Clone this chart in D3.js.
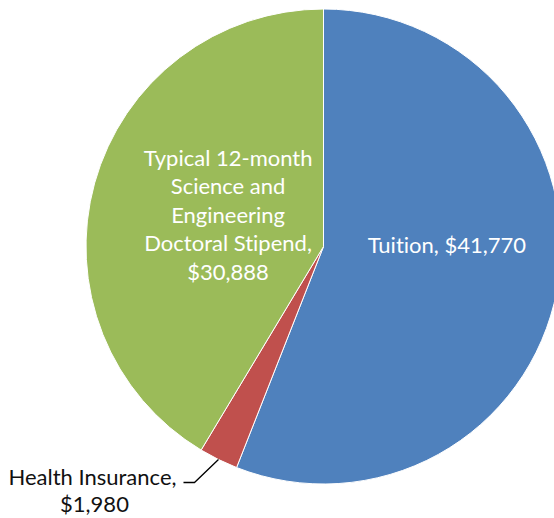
<!DOCTYPE html>
<html><head><meta charset="utf-8">
<script src="https://cdn.jsdelivr.net/npm/d3@7"></script>
<style>body{margin:0;background:#fff;}svg{display:block;}text{font-variant-ligatures:none;font-feature-settings:"liga" 0;}</style>
</head><body>
<script>
const categories = ["Tuition", "Health Insurance", "Typical 12-month Science and Engineering Doctoral Stipend"];
const values = [41770, 1980, 30888];
const colors = ["#4F81BD", "#C0504D", "#9BBB59"];
const labelLines = [
  ["Tuition, $41,770"],
  ["Health Insurance,", "$1,980"],
  ["Typical 12-month", "Science and", "Engineering", "Doctoral Stipend,", "$30,888"]
];

const W = 554, H = 518, cx = 323.5, cy = 246.5, R = 237.5;
const svg = d3.select("body").append("svg").attr("width", W).attr("height", H);
const g = svg.append("g").attr("transform", `translate(${cx},${cy})`);
const pie = d3.pie().sort(null).value(d => d)(values);
const arc = d3.arc().innerRadius(0).outerRadius(R);
g.selectAll("path.slice").data(pie).enter().append("path")
  .attr("class", "slice").attr("d", arc)
  .attr("fill", (d, i) => colors[i]).attr("stroke", "#fff").attr("stroke-width", 1);

const font = "Lato, 'Open Sans', sans-serif";
const fs = 22, lh = 28.5;
// Tuition label (inside)
const tPos = d3.arc().innerRadius(R * 0.52).outerRadius(R * 0.52).centroid(pie[0]);
g.append("text").attr("x", tPos[0] + 2).attr("y", tPos[1] - 17)
  .attr("text-anchor", "middle").attr("fill", "#fff").attr("font-family", font).attr("font-size", fs)
  .text(labelLines[0][0]);
// Stipend label (inside)
const sPos = d3.arc().innerRadius(R * 0.5).outerRadius(R * 0.5).centroid(pie[2]);
const sx = sPos[0] + 19, sy = sPos[1] + 8;
const st = g.append("text").attr("text-anchor", "middle").attr("fill", "#fff")
  .attr("font-family", font).attr("font-size", fs);
labelLines[2].forEach((l, i) => {
  st.append("tspan").attr("x", sx).attr("y", sy + (i - 2) * lh).text(l);
});
// Health insurance label (outside with leader)
const hMid = (pie[1].startAngle + pie[1].endAngle) / 2;
const p0 = [Math.sin(hMid) * R, -Math.cos(hMid) * R];
const elbow = [p0[0] - 24, p0[1] + 23];
const lineEnd = [elbow[0] - 11, elbow[1]];
g.append("polyline").attr("points", [p0, elbow, lineEnd].map(p => p.join(",")).join(" "))
  .attr("fill", "none").attr("stroke", "#000").attr("stroke-width", 1.3);
const hx = lineEnd[0] - 91, hy = lineEnd[1];
const ht = g.append("text").attr("text-anchor", "middle").attr("fill", "#111")
  .attr("font-family", font).attr("font-size", fs);
labelLines[1].forEach((l, i) => {
  ht.append("tspan").attr("x", hx + i * 2).attr("y", hy + 2 + i * 27).text(l);
});
</script>
</body></html>
